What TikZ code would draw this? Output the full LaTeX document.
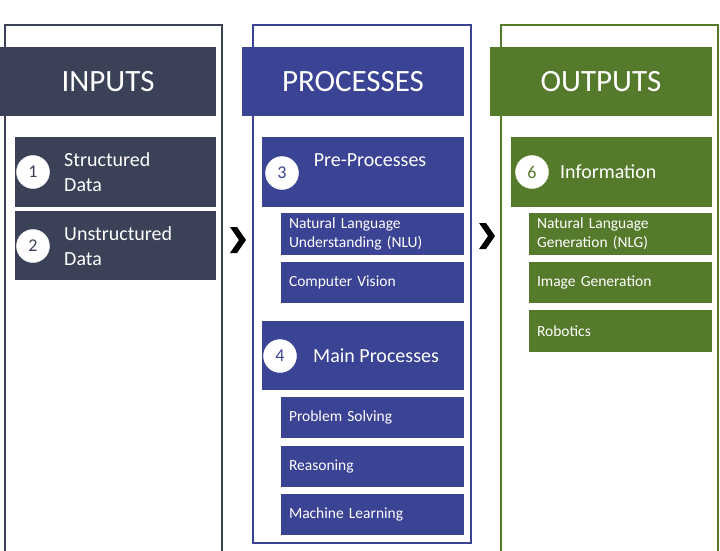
\documentclass[tikz,border=0pt]{standalone}
\usepackage{fontspec}
\setmainfont{Carlito}
\usepackage{tikz}

\definecolor{inpcol}{HTML}{3B4257}
\definecolor{proccol}{HTML}{3A4394}
\definecolor{outcol}{HTML}{567A2C}

\begin{document}
\begin{tikzpicture}[x=1pt, y=-1pt]
        \tikzstyle{frame} = [line width=2pt]
        \tikzstyle{box} = [anchor=north west, inner sep=0pt, outer sep=0pt, text=white]
        \tikzstyle{hdr} = [box, minimum width=222pt, minimum height=69pt, font=\fontsize{31}{36}\selectfont]
        \tikzstyle{stage} = [box, minimum width=202pt, minimum height=70pt]
        \tikzstyle{item} = [box, minimum width=183pt, minimum height=42pt, text width=167pt, inner xsep=8pt, align=left, font=\fontsize{15.5}{19}\selectfont]
        \tikzstyle{num} = [draw=white, fill=white, circle, minimum size=33pt, inner sep=0pt, font=\fontsize{18}{20}\selectfont]
        \tikzstyle{lbl} = [text=white, align=left, inner sep=0pt, font=\fontsize{20}{25}\selectfont]
        \clip (0,0) rectangle (720,550);
        \fill[white] (0,0) rectangle (720,550);
        % panel outlines
        \draw[frame, inpcol] (5,25) rectangle (222,570);
        \draw[frame, proccol] (253,25) rectangle (471,543);
        \draw[frame, outcol] (501,25) rectangle (718,570);
        % inputs
        \node[hdr, fill=inpcol, minimum width=216pt] (inhdr) at (0,47) {INPUTS};
        \node[stage, fill=inpcol, minimum width=201pt] (sdata) at (15,137) {};
        \node[stage, fill=inpcol, minimum width=201pt, minimum height=69pt] (udata) at (15,211) {};
        \node[num, text=inpcol] (n1) at (33,172) {1};
        \node[num, text=inpcol] (n2) at (33,246) {2};
        \node[lbl, anchor=west] (sdtxt) at (64,172) {Structured\\Data};
        \node[lbl, anchor=west] (udtxt) at (64,246) {Unstructured\\Data};
        % processes
        \node[hdr, fill=proccol] (prhdr) at (242,47) {PROCESSES};
        \node[stage, fill=proccol] (pre) at (262,137) {};
        \node[num, text=proccol] (n3) at (282,173) {3};
        \node[lbl] (pretxt) at (370,160) {Pre-Processes};
        \node[item, fill=proccol] (nlu) at (281,213) {Natural Language\\Understanding (NLU)};
        \node[item, fill=proccol, minimum height=41pt] (cv) at (281,262) {Computer Vision};
        \node[stage, fill=proccol, minimum height=69pt] (main) at (262,321) {};
        \node[num, text=proccol] (n4) at (280,356) {4};
        \node[lbl, anchor=west] (maintxt) at (313,356) {Main Processes};
        \node[item, fill=proccol, minimum height=41pt] (ps) at (281,397) {Problem Solving};
        \node[item, fill=proccol, minimum height=41pt] (rs) at (281,446) {Reasoning};
        \node[item, fill=proccol, minimum height=41pt] (ml) at (281,494) {Machine Learning};
        % outputs
        \node[hdr, fill=outcol] (outhdr) at (490,47) {OUTPUTS};
        \node[stage, fill=outcol, minimum width=201pt] (info) at (511,137) {};
        \node[num, text=outcol] (n6) at (532,172) {6};
        \node[lbl, anchor=west] (infotxt) at (560,172) {Information};
        \node[item, fill=outcol] (nlg) at (529,213) {Natural Language\\Generation (NLG)};
        \node[item, fill=outcol, minimum height=41pt] (ig) at (529,262) {Image Generation};
        \node[item, fill=outcol] (rob) at (529,310) {Robotics};
        % chevrons between panels
        \coordinate (arr1) at (238,240);
        \coordinate (arr2) at (487,236);
        \foreach \c in {arr1, arr2}
            \fill[black, shift={(\c)}] (-8,-13) -- (-1,-13) -- (8,0) -- (-1,13) -- (-8,13) -- (1,0) -- cycle;
\end{tikzpicture}
\end{document}
